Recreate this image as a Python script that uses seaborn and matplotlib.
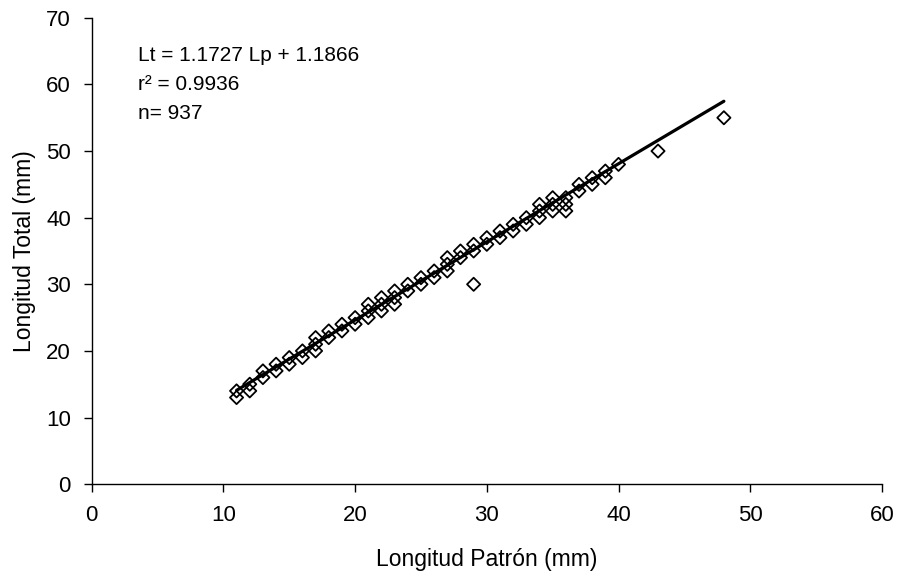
import numpy as np
import pandas as pd
import seaborn as sns
import matplotlib.pyplot as plt

# Standard length (x) and total length (y) readings, mm
lp = [11, 11, 12, 12, 13, 13, 14, 14, 15, 15, 16, 16, 17, 17, 17, 18, 18,
      19, 19, 20, 20, 21, 21, 21, 22, 22, 22, 23, 23, 23, 24, 24, 25, 25,
      26, 26, 27, 27, 27, 28, 28, 29, 29, 29, 30, 30, 31, 31, 32, 32, 33, 33,
      34, 34, 34, 35, 35, 35, 36, 36, 36, 37, 37, 38, 38, 39, 39, 40, 43, 48]
lt = [13, 14, 14, 15, 16, 17, 17, 18, 18, 19, 19, 20, 20, 21, 22, 22, 23,
      23, 24, 24, 25, 25, 26, 27, 26, 27, 28, 27, 28, 29, 29, 30, 30, 31,
      31, 32, 32, 33, 34, 34, 35, 30, 35, 36, 36, 37, 37, 38, 38, 39, 39, 40,
      40, 41, 42, 41, 42, 43, 41, 42, 43, 44, 45, 45, 46, 46, 47, 48, 50, 55]

# regression coefficients as reported
slope = 1.1727
intercept = 1.1866
r2 = 0.9936
n = 937

df = pd.DataFrame({'Lp': lp, 'Lt': lt})

sns.set_style('ticks')
plt.rcParams['font.family'] = ['Liberation Sans', 'DejaVu Sans']
plt.rcParams['text.color'] = 'black'
plt.rcParams['axes.labelcolor'] = 'black'

fig = plt.figure(figsize=(8.99, 5.75), dpi=100)
ax = fig.add_axes([0.102, 0.158, 0.879, 0.811])

line_x = np.array([df['Lp'].min(), df['Lp'].max()])
line = pd.DataFrame({'Lp': line_x, 'Lt': slope * line_x + intercept})

sns.scatterplot(data=df, x='Lp', y='Lt', marker='D', s=45, facecolor='none',
                edgecolor='black', linewidth=1.3, ax=ax, zorder=3)
sns.lineplot(data=line, x='Lp', y='Lt', color='black', linewidth=2.3, ax=ax, zorder=2)

ax.set_xlim(0, 60)
ax.set_ylim(0, 70)
ax.set_xticks(range(0, 61, 10))
ax.set_yticks(range(0, 71, 10))
ax.tick_params(labelsize=16, length=6, width=1, colors='black', labelcolor='black', pad=9)
ax.set_xlabel('Longitud Patrón (mm)', fontsize=16.5, labelpad=16)
ax.set_ylabel('Longitud Total (mm)', fontsize=16.5, labelpad=7)
for s in ['left', 'bottom']:
    ax.spines[s].set_color('black')
    ax.spines[s].set_linewidth(1)
sns.despine(ax=ax)

ax.text(3.5, 64.4, f'Lt = {slope} Lp + {intercept}', fontsize=15, va='center')
ax.text(3.5, 60.0, f'r² = {r2}', fontsize=15, va='center')
ax.text(3.5, 55.6, f'n= {n}', fontsize=15, va='center')

fig.savefig('out.png', dpi=100)
